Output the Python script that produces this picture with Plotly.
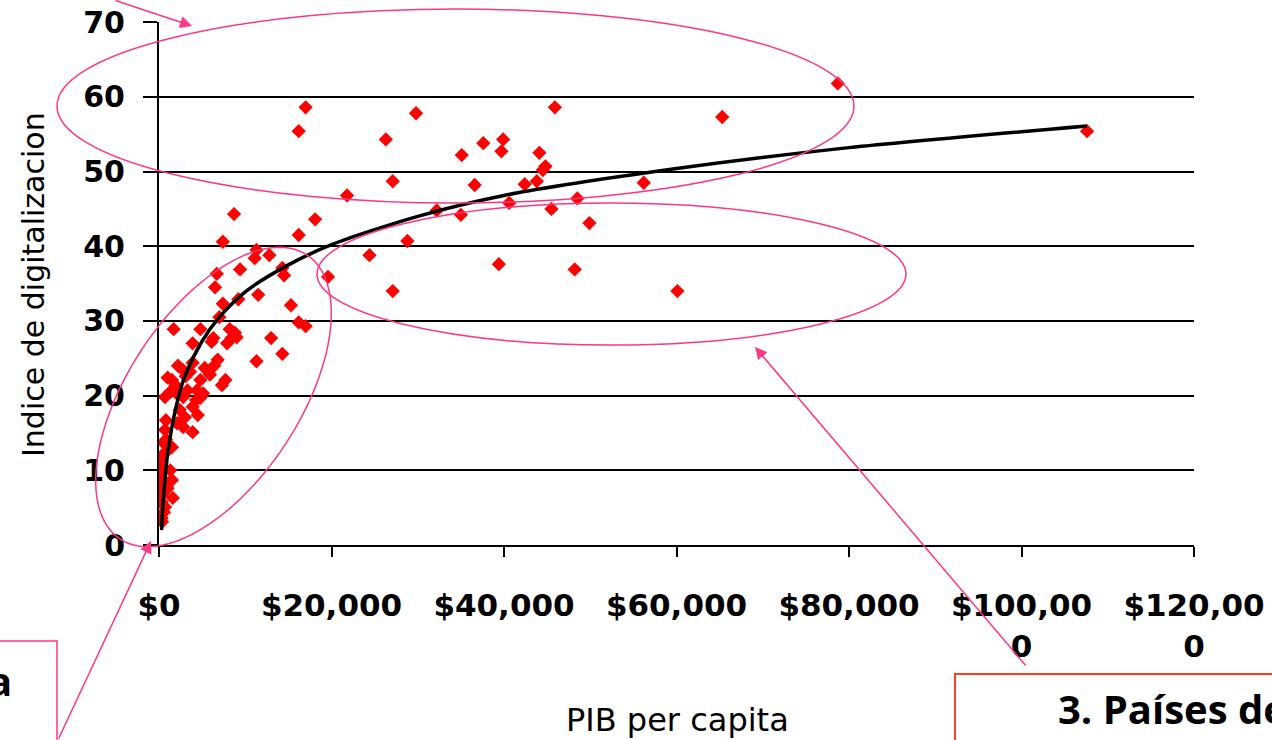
import numpy as np
import plotly.graph_objects as go

# ---------------- data ----------------
pib = [78700, 107600, 65300, 45900, 29800, 17000, 16200, 26300, 37600, 39900,
       39700, 35100, 44100, 44800, 44500, 42400, 27100, 36600, 43800, 56200,
       48500, 40600, 32200, 45500, 35000, 21800, 49900, 18100, 16200, 28800,
       39400, 48200, 60100, 27100, 24400, 8700, 7400, 11300, 11100, 12800,
       14300, 14500, 9400, 6700, 19600, 6500, 11500, 9200, 7400, 15300,
       7000, 16200, 17000, 1700, 4800, 8200, 8800, 13000, 6300, 6100,
       8400, 7900, 9000, 3900, 14300, 11300, 2200, 5300, 5900, 3900,
       2800, 4800, 1500, 7700, 7300, 700, 2800, 3900, 4500, 2100,
       2800, 3900, 700, 500, 3300, 4400, 1300, 1900, 1500, 300,
       350, 1500, 1600, 700, 300, 300, 300, 1000, 1300, 300,
       700, 3100, 2200, 3600, 1000, 5100, 2400, 800, 3000, 4800,
       6400, 6800, 4300, 350, 350, 460, 350, 580, 300, 810]
indice = [61.8, 55.4, 57.3, 58.6, 57.8, 58.6, 55.4, 54.3, 53.8, 54.3,
          52.7, 52.2, 52.5, 50.7, 50.2, 48.3, 48.7, 48.2, 48.7, 48.5,
          46.4, 45.8, 44.8, 45.0, 44.2, 46.8, 43.1, 43.6, 41.5, 40.7,
          37.6, 36.9, 34.0, 34.0, 38.8, 44.3, 40.6, 39.5, 38.4, 38.8,
          37.1, 36.1, 36.9, 36.3, 35.9, 34.5, 33.5, 32.9, 32.3, 32.1,
          30.5, 29.8, 29.3, 28.9, 28.9, 28.9, 28.4, 27.7, 27.7, 27.2,
          27.7, 27.0, 27.8, 27.0, 25.6, 24.6, 24.0, 23.7, 22.8, 24.4,
          23.4, 22.1, 22.1, 22.1, 21.4, 19.8, 19.8, 18.5, 17.4, 16.3,
          15.8, 15.1, 15.4, 13.7, 20.7, 20.7, 20.5, 21.4, 13.1, 11.0,
          9.8, 8.7, 6.3, 5.1, 3.6, 7.4, 5.8, 7.6, 10.0, 9.0,
          12.3, 22.6, 20.1, 23.2, 22.4, 20.3, 18.1, 16.7, 17.1, 19.7,
          24.0, 24.8, 19.4, 3.1, 12.0, 8.0, 6.7, 4.4, 10.3, 14.1]

# logarithmic trend line
trend_pib = [300, 500, 1000, 2000, 3000, 5000, 7000, 10000, 15000, 20000,
             30000, 40000, 60000, 80000, 107600]
trend_indice = [2.0, 6.0, 12.2, 18.6, 22.6, 27.3, 30.5, 33.9, 37.5, 40.2,
                44.0, 46.8, 50.4, 53.2, 56.1]

x_tickvals = [0, 20000, 40000, 60000, 80000, 100000, 120000]
x_ticktext = ["$0", "$20,000", "$40,000", "$60,000", "$80,000",
              "$100,00<br>0", "$120,00<br>0"]
y_tickvals = [0, 10, 20, 30, 40, 50, 60, 70]

x_title = "PIB per capita"
y_title = "Indice de digitalizacion"
box3_text = "3. Países desarrollados"
box1_text = "a"

# ---------------- geometry helpers (pixel -> paper) ----------------
W, H = 1272, 740
L, R, T, B = 159, 1194, 22, 545


def px(p):
    return (p - L) / (R - L)


def py(p):
    return (B - p) / (B - T)


PINK = "#FF3585"
FONT = "DejaVu Sans"
BOXFONT = "Open Sans"

fig = go.Figure()
fig.add_trace(go.Scatter(
    x=pib, y=indice, mode="markers",
    marker=dict(symbol="diamond", size=11, color="#FF0000", line=dict(width=0)),
    showlegend=False, hoverinfo="x+y"))
fig.add_trace(go.Scatter(
    x=trend_pib, y=trend_indice, mode="lines",
    line=dict(color="black", width=3.5, shape="spline", smoothing=0.8),
    showlegend=False, hoverinfo="skip"))

shapes = []
# top ellipse
shapes.append(dict(type="circle", xref="paper", yref="paper",
                   x0=px(57), x1=px(854), y0=py(203), y1=py(9),
                   line=dict(color=PINK, width=1.5)))
# middle-right ellipse
shapes.append(dict(type="circle", xref="paper", yref="paper",
                   x0=px(317), x1=px(906), y0=py(345), y1=py(203),
                   line=dict(color=PINK, width=1.5)))
# tilted ellipse (bottom-left)
cx, cy, ea, eb = 213.5, 397.0, 170.0, 86.0
vx, vy = 0.549, -0.836
t = np.linspace(0, 2 * np.pi, 121)
ex = cx + ea * np.cos(t) * vx - eb * np.sin(t) * vy
ey = cy + ea * np.cos(t) * vy + eb * np.sin(t) * vx
path = "M " + " L ".join(f"{px(a):.5f},{py(b):.5f}" for a, b in zip(ex, ey)) + " Z"
shapes.append(dict(type="path", xref="paper", yref="paper", path=path,
                   line=dict(color=PINK, width=1.5)))
# bottom-left text box
shapes.append(dict(type="rect", xref="paper", yref="paper",
                   x0=px(-20), x1=px(57), y0=py(780), y1=py(641),
                   line=dict(color=PINK, width=1.5)))
# bottom-right text box
shapes.append(dict(type="rect", xref="paper", yref="paper",
                   x0=px(955), x1=px(1300), y0=py(780), y1=py(674),
                   line=dict(color="#FF4020", width=2)))

annotations = []
# arrows
for tip, off in [((192, 26), (-78, -34)), ((151, 541), (-93, 204)),
                 ((755, 347), (272, 320))]:
    annotations.append(dict(xref="paper", yref="paper", x=px(tip[0]), y=py(tip[1]),
                            ax=off[0], ay=off[1], text="", showarrow=True,
                            arrowhead=2, arrowsize=1.6, arrowwidth=1.5,
                            arrowcolor=PINK, standoff=0))
# axis titles
annotations.append(dict(xref="paper", yref="paper", x=px(33), y=py(285),
                        xanchor="center", yanchor="middle",
                        text=y_title, textangle=-90, showarrow=False,
                        font=dict(family=FONT, size=30, color="black")))
annotations.append(dict(xref="paper", yref="paper", x=px(677), y=py(720),
                        xanchor="center", yanchor="middle",
                        text=x_title, showarrow=False,
                        font=dict(family=FONT, size=32, color="black")))
# box texts
annotations.append(dict(xref="paper", yref="paper", x=px(14), y=py(680),
                        xanchor="right", yanchor="middle",
                        text=f"<b>{box1_text}</b>", showarrow=False,
                        font=dict(family=BOXFONT, size=40, color="black")))
annotations.append(dict(xref="paper", yref="paper", x=px(1056), y=py(709),
                        xanchor="left", yanchor="middle",
                        text=f"<b>{box3_text}</b>", showarrow=False,
                        font=dict(family=BOXFONT, size=40, color="black")))

fig.update_layout(
    width=W, height=H,
    margin=dict(l=L, r=W - R, t=T, b=H - B, autoexpand=False),
    paper_bgcolor="white", plot_bgcolor="white",
    shapes=shapes, annotations=annotations,
    font=dict(family=FONT, color="black"),
    xaxis=dict(range=[0, 120000], tickvals=x_tickvals, ticktext=x_ticktext,
               showgrid=False, zeroline=False, showline=True, linecolor="black",
               linewidth=2, ticks="outside", ticklen=10, tickwidth=2,
               tickcolor="black", ticklabelstandoff=22,
               tickfont=dict(family=FONT, size=31, color="black", weight="bold")),
    yaxis=dict(range=[0, 70.02], tickvals=y_tickvals, showgrid=True,
               gridcolor="black", gridwidth=2, zeroline=False, showline=True,
               linecolor="black", linewidth=2, ticks="outside", ticklen=14,
               tickwidth=2, tickcolor="black", ticklabelstandoff=12,
               tickfont=dict(family=FONT, size=30, color="black", weight="bold")),
)

fig.write_html("out.html", config={"displayModeBar": False},
               post_script="document.body.style.margin='0';document.body.style.overflow='hidden';")
